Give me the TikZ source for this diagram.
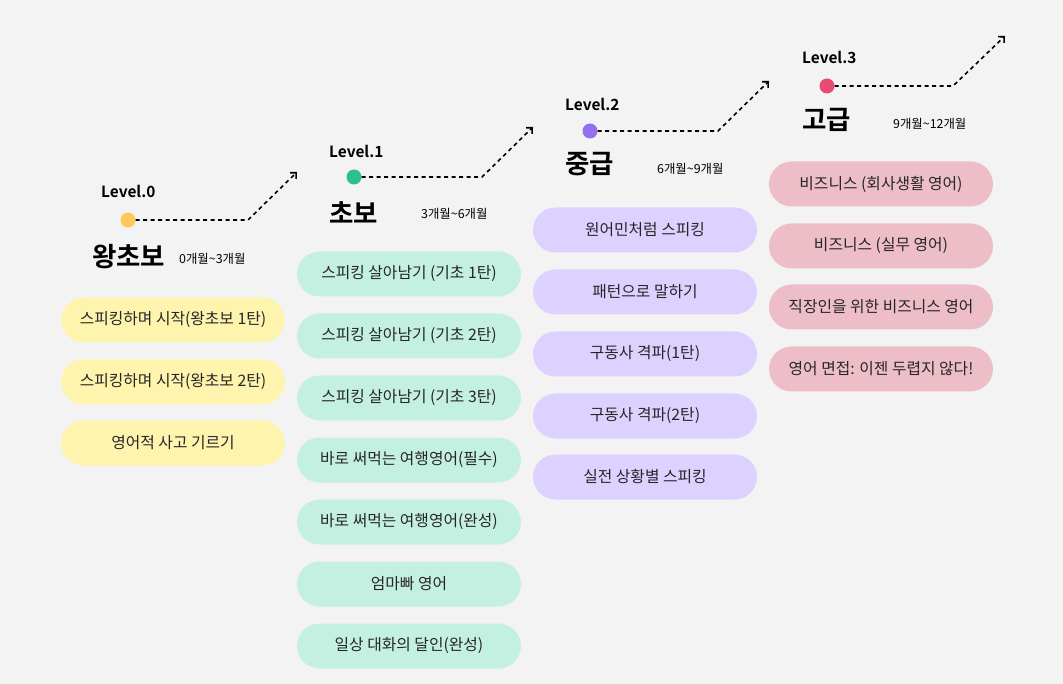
\documentclass[tikz,border=0pt]{standalone}
\usepackage{fontspec}
\setmainfont{Noto Sans CJK KR}
\newfontfamily\krbold{Noto Sans CJK KR Bold}
\usetikzlibrary{arrows.meta}
\definecolor{bg}{HTML}{F3F3F3}
\definecolor{pillY}{HTML}{FFF4AE}
\definecolor{pillG}{HTML}{C4F0E2}
\definecolor{pillP}{HTML}{DDD2FF}
\definecolor{pillR}{HTML}{EDBEC8}
\definecolor{dotY}{HTML}{FFC85C}
\definecolor{dotG}{HTML}{2CBF92}
\definecolor{dotP}{HTML}{9270F0}
\definecolor{dotR}{HTML}{E84A72}
\definecolor{txt}{HTML}{262626}
\tikzset{
  pill/.style={rounded corners=22.5pt, minimum width=224pt, minimum height=45pt, inner sep=0pt,
    text=txt, font=\fontsize{15.8}{18}\selectfont},
  lvdot/.style={circle, minimum size=15pt, inner sep=0pt},
  lvtext/.style={font=\krbold\fontsize{15.4}{18}\selectfont, anchor=west, inner sep=0pt},
  lvtitle/.style={font=\krbold\fontsize{26.5}{30}\selectfont, anchor=west, inner sep=0pt},
  lvmonth/.style={font=\fontsize{12.4}{14}\selectfont, anchor=west, inner sep=0pt},
  track/.style={line width=1.6pt, dash pattern=on 4pt off 3.5pt, -{Straight Barb[angle=90:6pt]}},
}
\begin{document}
\begin{tikzpicture}[x=1pt,y=-1pt]
\fill[bg] (0,0) rectangle (1063,684);
\useasboundingbox (0,0) rectangle (1063,684);

% Level 0
\node[lvtext] (l0) at (101,191) {Level.0};
\node[lvdot, fill=dotY] (d0) at (128,220) {};
\coordinate (c0) at (248,220);
\coordinate (e0) at (297,172);
\draw[track] (d0.east) -- (c0) -- (e0);
\node[lvtitle] (t0) at (92,257) {왕초보};
\node[lvmonth] (m0) at (179,259) {0개월\textasciitilde 3개월};
\node[pill, fill=pillY] (p01) at (173,320) {스피킹하며 시작(왕초보 1탄)};
\node[pill, fill=pillY] (p02) at (173,382) {스피킹하며 시작(왕초보 2탄)};
\node[pill, fill=pillY] (p03) at (173,443) {영어적 사고 기르기};

% Level 1
\node[lvtext] (l1) at (329,151) {Level.1};
\node[lvdot, fill=dotG] (d1) at (354,177) {};
\coordinate (c1) at (482,177);
\coordinate (e1) at (533,127);
\draw[track] (d1.east) -- (c1) -- (e1);
\node[lvtitle] (t1) at (329,213) {초보};
\node[lvmonth] (m1) at (421,214) {3개월\textasciitilde 6개월};
\node[pill, fill=pillG] (p11) at (409,274) {스피킹 살아남기 (기초 1탄)};
\node[pill, fill=pillG] (p12) at (409,336) {스피킹 살아남기 (기초 2탄)};
\node[pill, fill=pillG] (p13) at (409,398) {스피킹 살아남기 (기초 3탄)};
\node[pill, fill=pillG] (p14) at (409,460) {바로 써먹는 여행영어(필수)};
\node[pill, fill=pillG] (p15) at (409,522) {바로 써먹는 여행영어(완성)};
\node[pill, fill=pillG] (p16) at (409,584) {엄마빠 영어};
\node[pill, fill=pillG] (p17) at (409,646) {일상 대화의 달인(완성)};

% Level 2
\node[lvtext] (l2) at (565,104) {Level.2};
\node[lvdot, fill=dotP] (d2) at (590,131) {};
\coordinate (c2) at (718,131);
\coordinate (e2) at (769,81);
\draw[track] (d2.east) -- (c2) -- (e2);
\node[lvtitle] (t2) at (565,164) {중급};
\node[lvmonth] (m2) at (657,169) {6개월\textasciitilde 9개월};
\node[pill, fill=pillP] (p21) at (645,230) {원어민처럼 스피킹};
\node[pill, fill=pillP] (p22) at (645,292) {패턴으로 말하기};
\node[pill, fill=pillP] (p23) at (645,354) {구동사 격파(1탄)};
\node[pill, fill=pillP] (p24) at (645,416) {구동사 격파(2탄)};
\node[pill, fill=pillP] (p25) at (645,477) {실전 상황별 스피킹};

% Level 3
\node[lvtext] (l3) at (802,57) {Level.3};
\node[lvdot, fill=dotR] (d3) at (827,86) {};
\coordinate (c3) at (953,86);
\coordinate (e3) at (1005,36);
\draw[track] (d3.east) -- (c3) -- (e3);
\node[lvtitle] (t3) at (802,120) {고급};
\node[lvmonth] (m3) at (893,124) {9개월\textasciitilde 12개월};
\node[pill, fill=pillR] (p31) at (881,184) {비즈니스 (회사생활 영어)};
\node[pill, fill=pillR] (p32) at (881,246) {비즈니스 (실무 영어)};
\node[pill, fill=pillR] (p33) at (881,307) {직장인을 위한 비즈니스 영어};
\node[pill, fill=pillR] (p34) at (881,369) {영어 면접: 이젠 두렵지 않다!};
\end{tikzpicture}
\end{document}
